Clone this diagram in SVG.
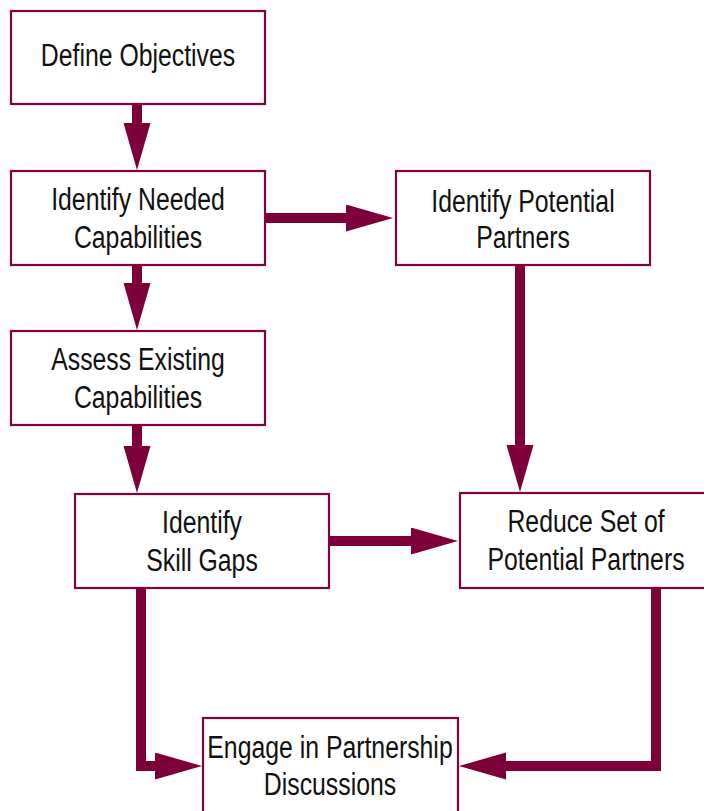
<svg xmlns="http://www.w3.org/2000/svg" width="704" height="811" viewBox="0 0 704 811">
<style>
.box{fill:#fff;stroke:#86003e;stroke-width:2.2}
.t{font-family:"Liberation Sans",Arial,sans-serif;font-size:31px;fill:#111;text-anchor:middle}
.c{fill:none;stroke:#7e0038;stroke-width:10;stroke-linejoin:miter}
</style>
<defs>
<marker id="ah" markerUnits="userSpaceOnUse" markerWidth="48" markerHeight="28" refX="1" refY="13.5" orient="auto">
<path d="M0,0 L47,13.5 L0,27 z" fill="#7e0038"/>
</marker>
</defs>
<rect width="704" height="811" fill="#fff"/>
<g id="connectors">
<path class="c" d="M137,105 V124" marker-end="url(#ah)"/>
<path class="c" d="M266,218 H347" marker-end="url(#ah)"/>
<path class="c" d="M137,265 V284" marker-end="url(#ah)"/>
<path class="c" d="M137,425 V447" marker-end="url(#ah)"/>
<path class="c" d="M520,266 V446" marker-end="url(#ah)"/>
<path class="c" d="M329,541 H412" marker-end="url(#ah)"/>
<path class="c" d="M141,588 V766 H156" marker-end="url(#ah)"/>
<path class="c" d="M656,588 V766 H505" marker-end="url(#ah)"/>
</g>
<g id="define-objectives">
<rect class="box" x="11" y="11" width="254" height="93"/>
<text class="t" transform="matrix(0.8 0 0 1 138 66)">Define Objectives</text>
</g>
<g id="identify-needed-capabilities">
<rect class="box" x="11" y="171" width="254" height="94"/>
<text class="t" transform="matrix(0.8 0 0 1 138 210)">Identify Needed</text>
<text class="t" transform="matrix(0.8 0 0 1 138 248)">Capabilities</text>
</g>
<g id="identify-potential-partners">
<rect class="box" x="396" y="171" width="254" height="94"/>
<text class="t" transform="matrix(0.8 0 0 1 523 212)">Identify Potential</text>
<text class="t" transform="matrix(0.8 0 0 1 523 248)">Partners</text>
</g>
<g id="assess-existing-capabilities">
<rect class="box" x="11" y="331" width="254" height="94"/>
<text class="t" transform="matrix(0.8 0 0 1 138 370)">Assess Existing</text>
<text class="t" transform="matrix(0.8 0 0 1 138 408)">Capabilities</text>
</g>
<g id="identify-skill-gaps">
<rect class="box" x="75" y="494" width="254" height="94"/>
<text class="t" transform="matrix(0.8 0 0 1 202 533)">Identify</text>
<text class="t" transform="matrix(0.8 0 0 1 202 571)">Skill Gaps</text>
</g>
<g id="reduce-set">
<rect class="box" x="460" y="493" width="250" height="95"/>
<text class="t" transform="matrix(0.8 0 0 1 586 532)">Reduce Set of</text>
<text class="t" transform="matrix(0.8 0 0 1 586 570)">Potential Partners</text>
</g>
<g id="engage">
<rect class="box" x="203" y="718" width="255" height="100"/>
<text class="t" transform="matrix(0.8 0 0 1 330 758)">Engage in Partnership</text>
<text class="t" transform="matrix(0.8 0 0 1 330 795)">Discussions</text>
</g>
</svg>
